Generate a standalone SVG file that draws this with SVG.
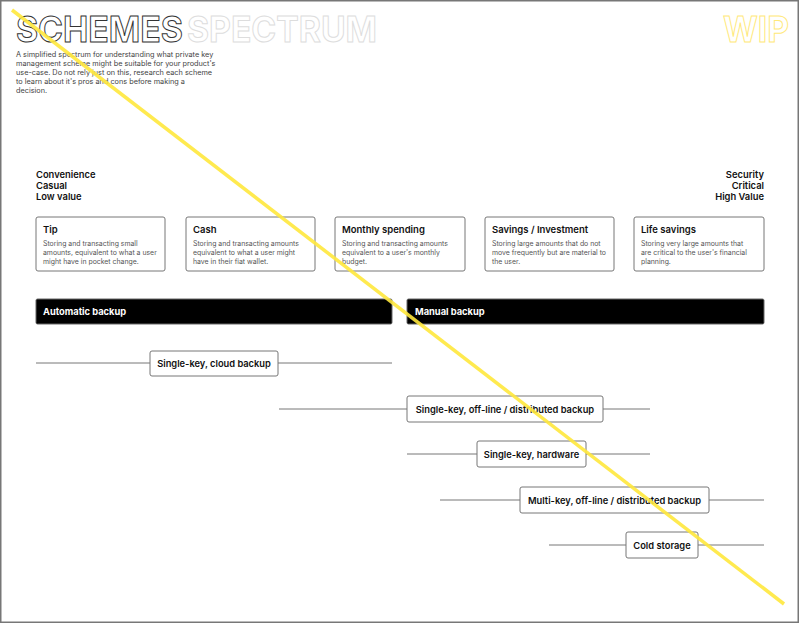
<svg xmlns="http://www.w3.org/2000/svg" width="800" height="624" viewBox="0 0 800 624">
<style>
text{font-family:Inter,"Noto Sans","Liberation Sans",sans-serif}
.title{font-size:36px;font-weight:700;fill:#fff;stroke-width:1}
.desc{font-size:7.3px;fill:#444}
.axis{font-size:9.4px;font-weight:600;fill:#111}
.card rect{fill:#fff;stroke:#777;stroke-width:1}
.ct{font-size:9.5px;font-weight:600;fill:#111}
.cd{font-size:6.9px;fill:#555}
.bar rect{fill:#000;stroke:#666;stroke-width:1}
.bar text{font-size:9.3px;font-weight:700;fill:#fff}
.node rect{fill:#fff;stroke:#777;stroke-width:1}
.node text{font-size:9.3px;font-weight:600;fill:#111;text-anchor:middle}
#connectors line{stroke:#777;stroke-width:1}
</style>
<rect x="0.75" y="0.75" width="797.5" height="621.5" fill="#fff" stroke="#777" stroke-width="1.5"/>
<text class="title" x="16" y="42" stroke="#333" textLength="167" lengthAdjust="spacingAndGlyphs">SCHEMES</text>
<text class="title" x="187" y="42" stroke="#ddd" textLength="190" lengthAdjust="spacingAndGlyphs">SPECTRUM</text>
<text class="title" x="723" y="42" stroke="#ffe97a" textLength="66" lengthAdjust="spacingAndGlyphs">WIP</text>
<text class="desc" x="16" y="57">A simplified spectrum for understanding what private key</text>
<text class="desc" x="16" y="66">management scheme might be suitable for your product's</text>
<text class="desc" x="16" y="75">use-case. Do not rely just on this, research each scheme</text>
<text class="desc" x="16" y="84">to learn about it's pros and cons before making a</text>
<text class="desc" x="16" y="93">decision.</text>
<g id="axis-left">
<text class="axis" x="36" y="178">Convenience</text>
<text class="axis" x="36" y="189">Casual</text>
<text class="axis" x="36" y="200">Low value</text>
</g>
<g id="axis-right" text-anchor="end">
<text class="axis" x="764" y="178">Security</text>
<text class="axis" x="764" y="189">Critical</text>
<text class="axis" x="764" y="200">High Value</text>
</g>
<g id="card-tip" class="card"><rect x="36" y="217" width="129" height="54" rx="2"/>
<text class="ct" x="43" y="233">Tip</text>
<text class="cd" x="43" y="246">Storing and transacting small</text>
<text class="cd" x="43" y="255">amounts, equivalent to what a user</text>
<text class="cd" x="43" y="264">might have in pocket change.</text></g>
<g id="card-cash" class="card"><rect x="186" y="217" width="129" height="54" rx="2"/>
<text class="ct" x="193" y="233">Cash</text>
<text class="cd" x="193" y="246">Storing and transacting amounts</text>
<text class="cd" x="193" y="255">equivalent to what a user might</text>
<text class="cd" x="193" y="264">have in their fiat wallet.</text></g>
<g id="card-monthly" class="card"><rect x="335" y="217" width="130" height="54" rx="2"/>
<text class="ct" x="342" y="233">Monthly spending</text>
<text class="cd" x="342" y="246">Storing and transacting amounts</text>
<text class="cd" x="342" y="255">equivalent to a user's monthly</text>
<text class="cd" x="342" y="264">budget.</text></g>
<g id="card-savings" class="card"><rect x="485" y="217" width="129" height="54" rx="2"/>
<text class="ct" x="492" y="233">Savings / Investment</text>
<text class="cd" x="492" y="246">Storing large amounts that do not</text>
<text class="cd" x="492" y="255">move frequently but are material to</text>
<text class="cd" x="492" y="264">the user.</text></g>
<g id="card-life" class="card"><rect x="634" y="217" width="130" height="54" rx="2"/>
<text class="ct" x="641" y="233">Life savings</text>
<text class="cd" x="641" y="246">Storing very large amounts that</text>
<text class="cd" x="641" y="255">are critical to the user's financial</text>
<text class="cd" x="641" y="264">planning.</text></g>
<g id="bar-automatic" class="bar"><rect x="36" y="299" width="356" height="25" rx="1.5"/>
<text x="43" y="315">Automatic backup</text></g>
<g id="bar-manual" class="bar"><rect x="407" y="299" width="357" height="25" rx="1.5"/>
<text x="415" y="315">Manual backup</text></g>
<g id="connectors">
<line x1="36" y1="363" x2="392" y2="363"/>
<line x1="279" y1="409" x2="650" y2="409"/>
<line x1="407" y1="454" x2="650" y2="454"/>
<line x1="440" y1="500" x2="764" y2="500"/>
<line x1="549" y1="545" x2="764" y2="545"/>
</g>
<g id="node-cloud" class="node"><rect x="150" y="351" width="128" height="25" rx="2"/><text x="214" y="367">Single-key, cloud backup</text></g>
<g id="node-offline" class="node"><rect x="407" y="396" width="196" height="26" rx="2"/><text x="505" y="412.5">Single-key, off-line / distributed backup</text></g>
<g id="node-hardware" class="node"><rect x="477" y="441" width="109" height="26" rx="2"/><text x="531.5" y="457.5">Single-key, hardware</text></g>
<g id="node-multikey" class="node"><rect x="520" y="487" width="189" height="26" rx="2"/><text x="614.5" y="503.5">Multi-key, off-line / distributed backup</text></g>
<g id="node-cold" class="node"><rect x="626" y="532" width="72" height="26" rx="2"/><text x="662" y="548.5">Cold storage</text></g>
<line x1="12" y1="10" x2="784" y2="604" stroke="#ffe83d" stroke-width="3.5" opacity="0.9"/>
</svg>
